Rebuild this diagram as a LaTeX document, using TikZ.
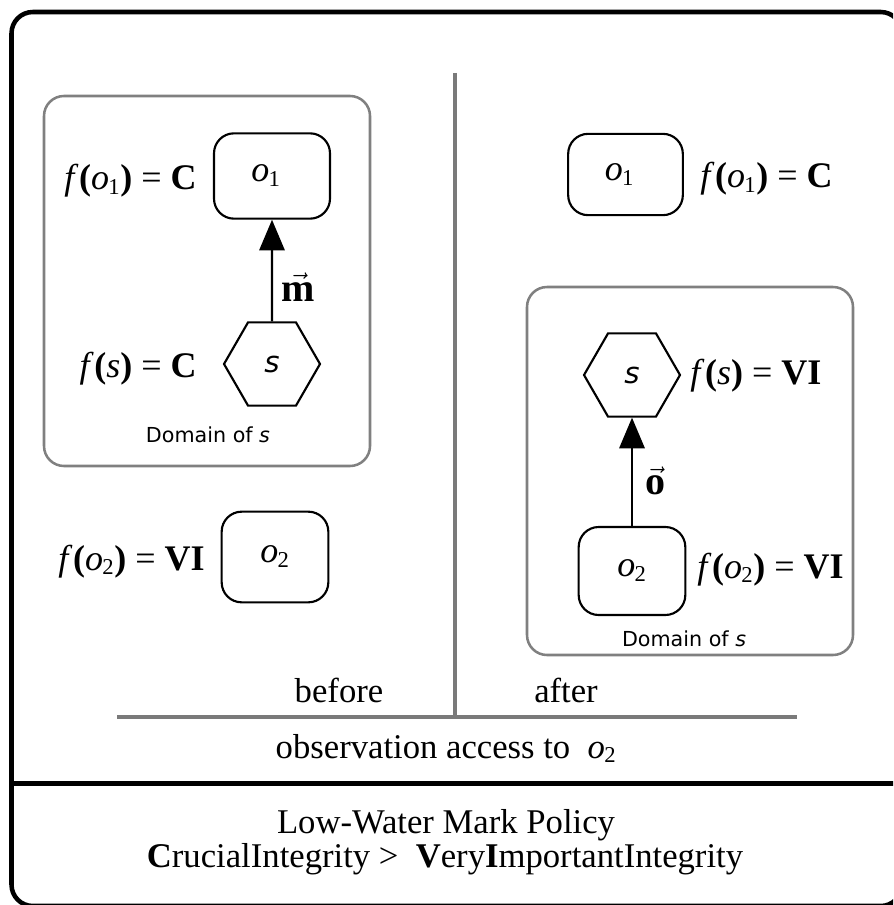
\documentclass[tikz,border=0pt]{standalone}
\usepackage{fontspec}
\setmainfont{Liberation Serif}
\newfontfamily\domfont{DejaVu Sans}
\usetikzlibrary{shapes.geometric,arrows.meta}

% object name with a tight subscript
\newcommand\objname[1]{\textit{o}\kern-0.5pt\textsubscript{\fontsize{17}{17}\selectfont #1}}
% label of the form f(x) = L
\newcommand\fval[2]{\textit{f}\kern0.5pt\textbf{(}#1\textbf{)} = \textbf{#2}}
% bold letter with an arrow over it
\newcommand\msgvec[1]{$\vec{\hbox{\bfseries #1}}$}

\tikzset{
  outerframe/.style={line width=3.4pt, rounded corners=16pt},
  domainbox/.style={draw=black!50, line width=1.9pt, rounded corners=15pt},
  divider/.style={draw=black!52, line width=2.3pt},
  objbox/.style={draw, line width=1.6pt, rounded corners=15pt, inner sep=0pt,
    font=\fontsize{27}{30}\selectfont},
  subject/.style={regular polygon, regular polygon sides=6, draw, line width=1.6pt,
    minimum size=72pt, inner sep=0pt, font=\domfont\itshape\fontsize{22}{26}\selectfont},
  flow/.style={line width=1.6pt, -{Triangle[length=23pt,width=19pt]}},
  lab/.style={inner sep=0pt, font=\fontsize{27}{30}\selectfont},
  veclab/.style={inner sep=0pt, font=\fontsize{30}{34}\selectfont},
  caption/.style={inner sep=0pt, font=\fontsize{26}{30}\selectfont},
  domlabel/.style={inner sep=0pt, font=\domfont\fontsize{15.5}{18}\selectfont},
}

\begin{document}
\begin{tikzpicture}[x=0.75pt, y=-0.75pt]
  \useasboundingbox (0,0) rectangle (893,905);
  \clip (0,0) rectangle (893,905);

  % outer frame and the separator above the policy
  \draw[outerframe] (11.5,12) rectangle (902,906);
  \draw[line width=3.75pt] (11,783) -- (902,783);

  % before / after dividers
  \draw[divider] (455,73) -- (455,717);
  \draw[divider] (117,717) -- (797,717);

  % ---------- before ----------
  \draw[domainbox] (44,96) rectangle (370,466);
  \node[domlabel, anchor=base] (domL) at (208,442) {Domain of \textit{s}};

  \node[objbox, minimum width=87pt, minimum height=64pt] (o1L) at (272,176) {\hspace*{-9pt}\objname{1}};
  \node[subject] (hexL) at (272,364) {s};
  \draw[flow] (hexL) -- (o1L);
  \node[veclab] (mL) at (298,287) {\msgvec{m}};

  \node[lab, anchor=base east] (fo1L) at (197,190) {\fval{\objname{1}}{C}};
  \node[lab, anchor=base east] (fsL) at (197,377) {\fval{\textit{s}}{C}};

  \node[objbox, minimum width=80pt, minimum height=68pt] (o2L) at (275,557) {\objname{2}};
  \node[lab, anchor=base east] (fo2L) at (205,570) {\fval{\objname{2}}{VI}};

  % ---------- after ----------
  \node[objbox, minimum width=86pt, minimum height=61pt] (o1R) at (625.5,174.5) {\hspace*{-9pt}\objname{1}};
  \node[lab, anchor=base west] (fo1R) at (700,188) {\fval{\objname{1}}{C}};

  \draw[domainbox] (527,287) rectangle (853,655);
  \node[domlabel, anchor=base] (domR) at (684,646) {Domain of \textit{s}};

  \node[subject] (hexR) at (632,375) {s};
  \node[objbox, minimum width=80pt, minimum height=66pt] (o2R) at (632,571) {\objname{2}};
  \draw[flow] (o2R) -- (hexR);
  \node[veclab] (oR) at (655,481) {\msgvec{o}};

  \node[lab, anchor=base west] (fsR) at (690,384) {\fval{\textit{s}}{VI}};
  \node[lab, anchor=base west] (fo2R) at (697,578) {\fval{\objname{2}}{VI}};

  % ---------- captions ----------
  \node[caption, anchor=base] (before) at (339,702) {before};
  \node[caption, anchor=base] (after) at (566,702) {after};
  \node[caption, anchor=base] (access) at (446,758) {observation access to \ \objname{2}};
  \node[caption, anchor=base] (policy) at (446,833) {Low-Water Mark Policy};
  \node[caption, anchor=base] (order) at (445,867)
    {\textbf{C}rucialIntegrity > \ \textbf{V}ery\textbf{I}mportantIntegrity};
\end{tikzpicture}
\end{document}
